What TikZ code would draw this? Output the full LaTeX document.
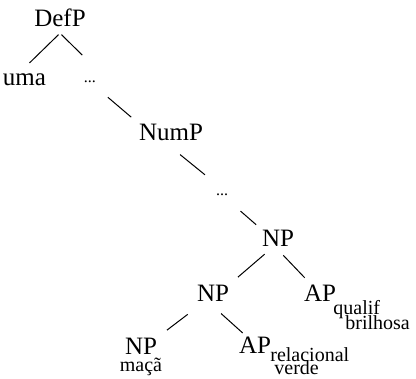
\documentclass[tikz,border=0pt]{standalone}
\usepackage{fontspec}
\setmainfont{Liberation Serif}
\usetikzlibrary{positioning}
\tikzset{
  cat/.style={inner sep=1pt,font=\fontsize{25}{25}\selectfont,text height=17pt,text depth=5pt,anchor=base},
  lex/.style={inner sep=1pt,font=\fontsize{20}{20}\selectfont,text height=12pt,text depth=4pt,anchor=base},
  ell/.style={lex,font=\fontsize{16}{16}\selectfont},
  br/.style={line width=1pt},
}
\begin{document}
\begin{tikzpicture}[x=1pt,y=-1pt]
  \useasboundingbox (0,0) rectangle (416,379);
  \node[cat] (defp) at (60,27) {DefP};
  \node[cat] (uma) at (24.5,86) {uma};
  \node[ell] (dtsA) at (90,83) {...};
  \node[cat] (nump) at (171,141) {NumP};
  \node[ell] (dtsB) at (222,196) {...};
  \node[cat] (npA) at (278,247) {NP};
  \node[cat] (npB) at (213,302) {NP};
  \node[cat] (apA) at (320,302) {AP};
  \node[lex,anchor=base west] (qual) at ([shift={(-5,13)}]apA.base east) {qualif};
  \node[lex,anchor=base west] (bril) at ([shift={(12,15)}]qual.base west) {brilhosa};
  \node[cat] (npC) at (141,355) {NP};
  \node[lex] (maca) at ([shift={(0,17)}]npC.base) {maçã};
  \node[cat] (apB) at (255,354) {AP};
  \node[lex,anchor=base west] (rel) at ([shift={(-3,8)}]apB.base east) {relacional};
  \node[lex,anchor=base west] (verde) at ([shift={(4,13)}]rel.base west) {verde};
  \draw[br,shorten <=2pt,shorten >=7pt] (defp.south) -- (uma.north);
  \draw[br,shorten <=2pt,shorten >=21pt] (defp.south) -- (dtsA.north east);
  \draw[br,shorten <=14pt,shorten >=8.7pt] (dtsA.south east) -- (nump.north west);
  \draw[br,shorten <=11.7pt,shorten >=12.7pt] (nump.south) -- (dtsB.north west);
  \draw[br,shorten <=15pt,shorten >=6.2pt] (dtsB.south east) -- (npA.north west);
  \draw[br,shorten <=1.5pt,shorten >=10.2pt] (npA.225) -- (npB.north east);
  \draw[br,shorten <=2.9pt,shorten >=8.4pt] (npA.285) -- (apA.128);
  \draw[br,shorten <=10.2pt,shorten >=11pt] (npB.south west) -- (npC.north east);
  \draw[br,shorten <=8pt,shorten >=4.3pt] (npB.280) -- (apB.127);
\end{tikzpicture}
\end{document}
